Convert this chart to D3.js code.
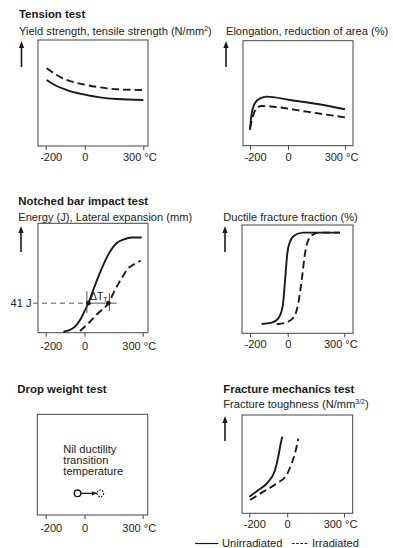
<!DOCTYPE html>
<html><head><meta charset="utf-8">
<script src="https://cdn.jsdelivr.net/npm/d3@7"></script>
<style>
html,body{margin:0;padding:0;background:#fff;}
svg{display:block;font-family:"Liberation Sans",Arial,Helvetica,sans-serif;}
</style></head>
<body><svg id="c" width="393" height="548"></svg>
<script>
// ---- data ----
const tempTicks = [-200, 0, 300];
const tickLabels = ["-200", "0", "300 °C"];
const seriesNames = ["Unirradiated", "Irradiated"];

// Tension test: yield/tensile strength (relative units)
const yieldUnirr = [[-195,62.3],[-144,56.6],[-92,52.8],[-7,48.7],[78,45.9],[164,44.3],[300,43.4]];
const yieldIrr   = [[-195,73.3],[-144,67],[-92,62.3],[-7,58.2],[78,55.3],[164,53.5],[300,52.8]];
// Elongation, reduction of area
const elongUnirr = [[-200,15],[-191,31],[-174,40.4],[-147,45],[-112,46.7],[10,43.5],[186,38.8],[300,34.7]];
const elongIrr   = [[-200,16.5],[-183,29],[-165,35.6],[-138,37.8],[-77,37.1],[98,32.4],[300,27]];
// Notched bar impact energy
const energyUnirr = [[-109,0.9],[-75,2.5],[-49,5.5],[-23,11.6],[3,20.7],[20,27],[45,39],[71,51],[97,62],[131,74],[166,82],[200,85],[243,87],[295,87]];
const energyIrr   = [[-23,1.5],[28,10],[71,18],[123,27],[157,39],[192,50],[226,59],[260,63],[290,66]];
const energy41Level = 27;
const energy41Temps = [20, 123];
const energy41LineEnd = 165;
// Ductile fracture fraction
const ductileUnirr = [[-138,8.6],[-85,9.8],[-50,13.8],[-27,24.6],[-14,49],[-2,74],[12,84.6],[39,90.8],[83,93],[277,93]];
const ductileIrr   = [[-58,8.3],[3,10.7],[39,17],[56,27.7],[74,49],[92,74],[109,86],[136,91.4],[171,93],[277,93]];
// Drop weight: nil ductility transition temperature
const ndtTemps = [-36, 82];
const ndtLevel = 21.5;
// Fracture toughness
const toughUnirr = [[-200,16.9],[-152,23.7],[-100,32],[-64,44],[-47,57.6],[-34,71],[-26,78]];
const toughIrr   = [[-196,13.5],[-126,22],[-55,30.5],[-3,39],[24,51],[41,61],[59,76]];

// ---- layout ----
const svg = d3.select("#c");
const ink = "#1a1a1a";
const txt = "#222";
const fsTitle = 11.4, fsSub = 11.1, fsTick = 11, fsNote = 11.1;
const panels = [
  {title:"Tension test", tx:19, ty:17.5, sub:["Yield strength, tensile strength (N/mm","2",")"], sx:19, sy:34.5,
   box:[38,40,148,146], xr:[45.7,143.3], arrowX:21.5, arrowY:[41,67], labY:161,
   series:[yieldUnirr, yieldIrr]},
  {title:null, sub:["Elongation, reduction of area (%)"], sx:226, sy:35,
   box:[243,40.7,353,145.7], xr:[250,345], arrowX:226, arrowY:[41,67], labY:161.5,
   series:[elongUnirr, elongIrr]},
  {title:"Notched bar impact test", tx:18.3, ty:205, sub:["Energy (J), Lateral expansion (mm)"], sx:18.3, sy:221,
   box:[38,223.3,148,332.7], xr:[45.7,142.7], arrowX:21, arrowY:[226,252], labY:350,
   series:[energyUnirr, energyIrr]},
  {title:null, sub:["Ductile fracture fraction (%)"], sx:223.3, sy:220.7,
   box:[242,225,353,333.3], xr:[250,344.3], arrowX:225, arrowY:[226,252], labY:348.5,
   series:[ductileUnirr, ductileIrr]},
  {title:"Drop weight test", tx:17.3, ty:392.7, sub:null,
   box:[37.3,414.3,147.7,515], xr:[45.7,142.7], labY:531.5, series:[]},
  {title:"Fracture mechanics test", tx:223.3, ty:393.3, sub:["Fracture toughness (N/mm","3/2",")"], sx:223.3, sy:408,
   box:[242,415,352.7,513.3], xr:[249.3,344], arrowX:225, arrowY:[416,441], labY:528.5,
   series:[toughUnirr, toughIrr]}
];
const dashes = [null, "7.5,4"];
const labelShift = [5, 0, -4];

panels.forEach((p, i) => {
  const g = svg.append("g");
  const [bx0, by0, bx1, by1] = p.box;
  p.x = d3.scaleLinear().domain([-200, 300]).range(p.xr);
  p.y = d3.scaleLinear().domain([0, 100]).range([by1, by0]);

  if (p.title) g.append("text").attr("x", p.tx).attr("y", p.ty)
      .attr("font-size", fsTitle).attr("font-weight", "bold").attr("fill", ink).text(p.title);
  if (p.sub) {
    const t = g.append("text").attr("x", p.sx).attr("y", p.sy)
      .attr("font-size", fsSub).attr("fill", txt);
    t.append("tspan").text(p.sub[0]);
    if (p.sub.length > 1) {
      t.append("tspan").attr("font-size", 7).attr("dy", -4).text(p.sub[1]);
      t.append("tspan").attr("dy", 4).text(p.sub[2]);
    }
  }
  if (p.arrowX) {
    const ax = p.arrowX, [ay0, ay1] = p.arrowY;
    g.append("line").attr("x1", ax).attr("x2", ax).attr("y1", ay0 + 5).attr("y2", ay1)
      .attr("stroke", ink).attr("stroke-width", 1.6);
    g.append("path").attr("d", `M${ax},${ay0} L${ax-2.6},${ay0+7} L${ax+2.6},${ay0+7} Z`).attr("fill", ink);
  }
  g.append("rect").attr("x", bx0).attr("y", by0).attr("width", bx1 - bx0).attr("height", by1 - by0)
    .attr("fill", "none").attr("stroke", "#444").attr("stroke-width", 1);

  const ax = g.append("g").attr("transform", `translate(0,${by1})`)
    .call(d3.axisBottom(p.x).tickValues(tempTicks).tickSize(4).tickFormat((d, k) => tickLabels[k]));
  ax.select(".domain").remove();
  ax.selectAll(".tick line").attr("stroke", "#444");
  ax.selectAll(".tick text").attr("font-size", fsTick).attr("fill", txt)
    .attr("font-family", "Liberation Sans, Arial, sans-serif")
    .attr("dy", null).attr("y", p.labY - by1)
    .attr("dx", (d, k) => labelShift[k]);

  const line = d3.line().x(d => p.x(d[0])).y(d => p.y(d[1])).curve(d3.curveMonotoneX);
  p.series.forEach((s, k) => {
    g.append("path").attr("d", line(s)).attr("fill", "none").attr("stroke", ink)
      .attr("stroke-width", 1.9).attr("stroke-dasharray", dashes[k]).attr("stroke-linecap", "butt");
  });
});

// Notched bar annotations
{
  const p = panels[2];
  const yL = p.y(energy41Level);
  const xa = p.x(energy41Temps[0]), xb = p.x(energy41Temps[1]);
  svg.append("text").attr("x", 31.5).attr("y", yL + 4).attr("text-anchor", "end")
    .attr("font-size", fsNote).attr("fill", txt).text("41 J");
  svg.append("line").attr("x1", 33).attr("x2", xa).attr("y1", yL).attr("y2", yL)
    .attr("stroke", "#555").attr("stroke-width", 1).attr("stroke-dasharray", "5,4");
  svg.append("line").attr("x1", xa).attr("x2", p.x(energy41LineEnd)).attr("y1", yL).attr("y2", yL)
    .attr("stroke", "#555").attr("stroke-width", 1);
  svg.append("line").attr("x1", xa - 1.5).attr("x2", xa - 1.5).attr("y1", yL - 12).attr("y2", yL + 10)
    .attr("stroke", "#555").attr("stroke-width", 1);
  svg.append("line").attr("x1", xb + 1).attr("x2", xb + 1).attr("y1", yL - 10).attr("y2", yL + 8)
    .attr("stroke", "#555").attr("stroke-width", 1);
  energy41Temps.forEach(t => svg.append("circle").attr("cx", p.x(t)).attr("cy", yL).attr("r", 2.3).attr("fill", ink));
  const dt = svg.append("text").attr("x", xa + 1.5).attr("y", yL - 3.5).attr("font-size", 10.5).attr("fill", txt);
  dt.append("tspan").text("ΔT");
  dt.append("tspan").attr("font-size", 7).attr("dy", 2).text("T");
}

// Drop weight annotations
{
  const p = panels[4];
  const lines = ["Nil ductility", "transition", "temperature"];
  lines.forEach((s, k) => svg.append("text").attr("x", 63.3).attr("y", 452.7 + k * 11.2)
    .attr("font-size", fsNote).attr("fill", txt).text(s));
  const yy = p.y(ndtLevel), x0 = p.x(ndtTemps[0]), x1 = p.x(ndtTemps[1]);
  svg.append("line").attr("x1", x0 + 3.3).attr("x2", x1 - 3.3).attr("y1", yy).attr("y2", yy)
    .attr("stroke", ink).attr("stroke-width", 1.3);
  svg.append("path").attr("d", `M${x1-3.3},${yy} L${x1-8.5},${yy-2.2} L${x1-8.5},${yy+2.2} Z`).attr("fill", ink);
  svg.append("circle").attr("cx", x0).attr("cy", yy).attr("r", 3.3).attr("fill", "#fff")
    .attr("stroke", ink).attr("stroke-width", 1.4);
  svg.append("circle").attr("cx", x1).attr("cy", yy).attr("r", 3.3).attr("fill", "#fff")
    .attr("stroke", ink).attr("stroke-width", 1.1).attr("stroke-dasharray", "1.6,1.2");
}

// Legend
{
  const ly = 543.5;
  const items = [{x1:195, x2:218.5, tx:222}, {x1:292, x2:309, tx:312}];
  items.forEach((it, k) => {
    svg.append("line").attr("x1", it.x1).attr("x2", it.x2).attr("y1", ly).attr("y2", ly)
      .attr("stroke", ink).attr("stroke-width", 1.2).attr("stroke-dasharray", k ? "2.6,1.6" : null);
    svg.append("text").attr("x", it.tx).attr("y", ly + 3.8).attr("font-size", fsNote)
      .attr("fill", txt).text(seriesNames[k]);
  });
}
</script></body></html>
